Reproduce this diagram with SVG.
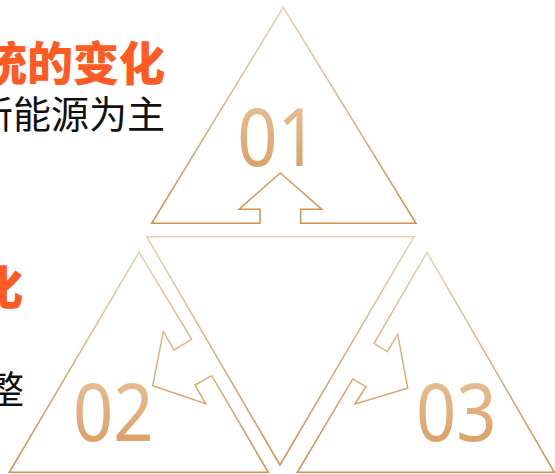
<svg xmlns="http://www.w3.org/2000/svg" width="555" height="474" viewBox="0 0 555 474">
<defs>
<linearGradient id="gs" x1="0" y1="0" x2="0" y2="1">
<stop offset="0" stop-color="#EDCFAE"/>
<stop offset="1" stop-color="#D38E4A"/>
</linearGradient>
<linearGradient id="gt" x1="0" y1="0" x2="0" y2="1">
<stop offset="0" stop-color="#EBC8A3"/>
<stop offset="1" stop-color="#D8985A"/>
</linearGradient>
<style>
.tri{fill:none;stroke:url(#gs);stroke-width:1.5;stroke-linejoin:miter}
.num{font-family:"Noto Sans","Open Sans",sans-serif;font-weight:400;fill:url(#gt);text-anchor:middle;font-size:80px}
.hd{font-family:"Noto Sans CJK SC",sans-serif;font-weight:900;fill:#FF5A24;text-anchor:end;font-size:46px}
.bd{font-family:"Noto Sans CJK SC",sans-serif;font-weight:400;fill:#111;text-anchor:end;font-size:38px}
</style>
</defs>
<rect width="555" height="474" fill="#fff"/>
<g id="text-left">
<text class="hd" x="165" y="80">统的变化</text>
<text class="bd" x="165" y="128">新能源为主</text>
<text class="hd" x="23" y="304">化</text>
<text class="bd" x="24" y="403">整</text>
</g>
<g id="node-center">
<polygon class="tri" points="146.7,236.7 414,236.7 280,465"/>
</g>
<g id="node-01">
<polygon class="tri" points="283.3,7.3 416,223.3 300.7,223.3 300.7,209.3 321.7,209.3 280.3,173 239,209.3 260,209.3 260,223.3 151.7,223.3"/>
<text class="num" transform="translate(277.5,166) scale(0.88,1)" x="0" y="0">01</text>
</g>
<g id="node-02">
<polygon class="tri" points="139,252.3 191.7,339.3 174,350 163.3,331.7 152.7,385.7 205.7,403.7 195,385 211.7,375.7 268.3,472.3 9.3,472.3"/>
<text class="num" transform="translate(113.3,440.5) scale(0.88,1)" x="0" y="0">02</text>
</g>
<g id="node-03">
<polygon class="tri" points="427,252.3 554.3,472.3 297.3,472.3 352.7,379 366,386.7 355,404 407.7,388.3 397.7,334 387.3,351.7 374,343.3"/>
<text class="num" transform="translate(456.3,440.5) scale(0.88,1)" x="0" y="0">03</text>
</g>
</svg>
